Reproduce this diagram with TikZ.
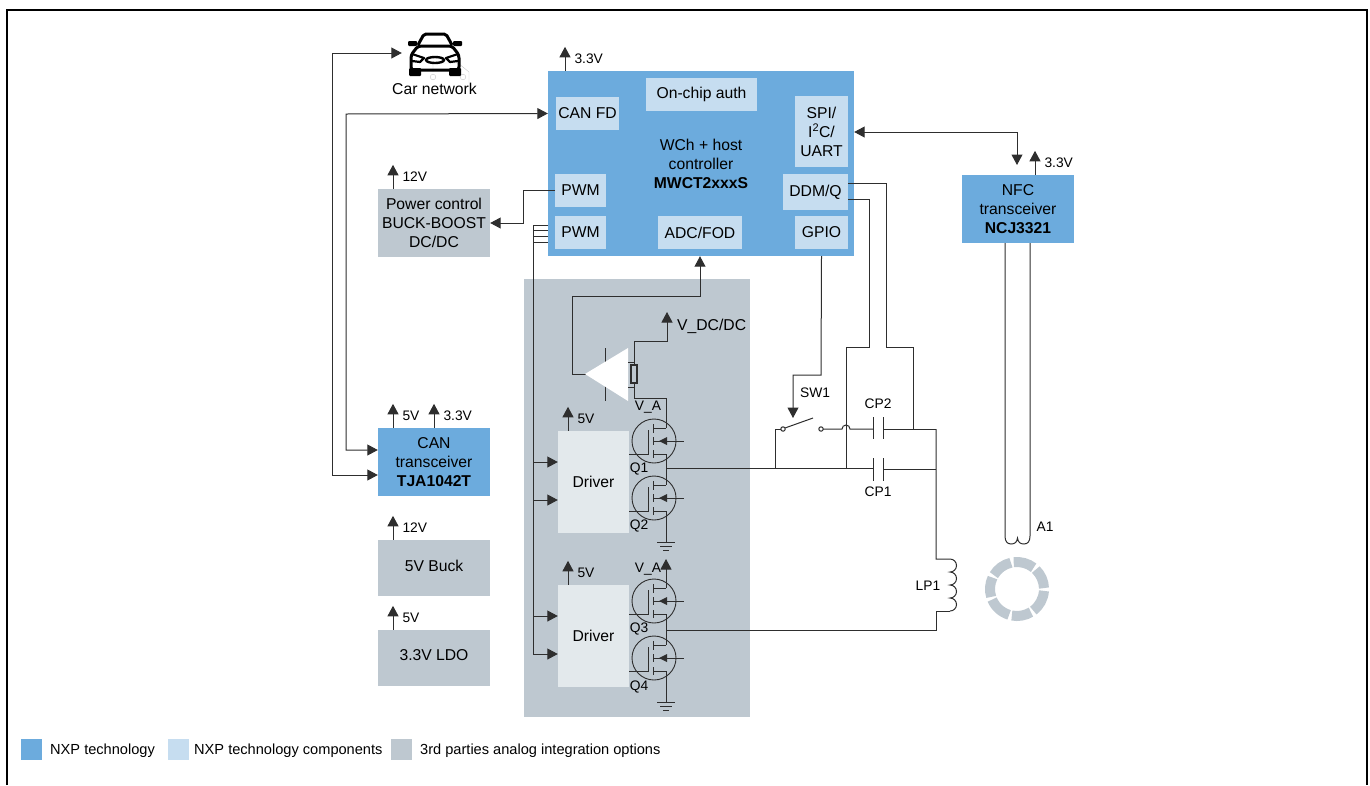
\documentclass[tikz,border=0pt]{standalone}
\usepackage{fontspec}
\setmainfont{Liberation Sans}
\usetikzlibrary{arrows.meta,calc}
\definecolor{nxpblue}{HTML}{6CABDD}
\definecolor{nxplight}{HTML}{C6DDF0}
\definecolor{thirdgray}{HTML}{BEC8D0}
\definecolor{drvfill}{HTML}{E3E9EC}
\definecolor{wirecol}{HTML}{2E2E2E}
\tikzset{
  >={Triangle[width=11pt,length=10.5pt]},
  wire/.style={draw=wirecol,line width=1pt},
  boxtxt/.style={inner sep=0pt,align=center,font=\fontsize{15.7}{19}\selectfont},
  nxpbox/.style={boxtxt,fill=nxpblue},
  partbox/.style={boxtxt,fill=nxplight},
  graybox/.style={boxtxt,fill=thirdgray},
  drvbox/.style={boxtxt,fill=drvfill},
  lab/.style={inner sep=0pt,font=\fontsize{13.8}{16}\selectfont},
  fetring/.style={circle,draw=wirecol,line width=0.9pt,minimum size=44pt,inner sep=0pt},
  carline/.style={draw=black,line width=3pt,line join=round},
}
\begin{document}
\begin{tikzpicture}[x=1pt,y=-1pt]
  \useasboundingbox (0,0) rectangle (1370,785);
  \draw[black,line width=2pt] (7,785) -- (7,10) -- (1367,10) -- (1367,785);
  % blocks
  \node[graybox,minimum width=226pt,minimum height=438pt] (panel) at (637,498) {};
  \node[nxpbox,minimum width=306pt,minimum height=185pt] (mcu) at (701,163.5) {};
  \node[boxtxt] (mcutxt) at (701,164) {WCh + host\\controller\\\textbf{MWCT2xxxS}};
  \node[partbox,minimum width=111pt,minimum height=33pt] (auth) at (701.5,94.5) {On-chip auth};
  \node[partbox,minimum width=63pt,minimum height=33pt] (canfd) at (587.5,113.5) {CAN FD};
  \node[partbox,minimum width=53pt,minimum height=71pt] (spi) at (821.5,131.5) {SPI/\\I\textsuperscript{2}C/\\UART};
  \node[partbox,minimum width=65pt,minimum height=36pt] (ddm) at (815.5,192) {DDM/Q};
  \node[partbox,minimum width=53pt,minimum height=33pt] (gpio) at (821.5,232.5) {GPIO};
  \node[partbox,minimum width=51pt,minimum height=33pt] (pwma) at (580.5,190.5) {PWM};
  \node[partbox,minimum width=51pt,minimum height=33pt] (pwmb) at (580.5,232.5) {PWM};
  \node[partbox,minimum width=84pt,minimum height=33pt] (adc) at (700,232.5) {ADC/FOD};
  \node[graybox,minimum width=112pt,minimum height=68pt] (power) at (434,223) {Power control\\BUCK-BOOST\\DC/DC};
  \node[nxpbox,minimum width=112pt,minimum height=68pt] (can) at (434,462) {CAN\\transceiver\\\textbf{TJA1042T}};
  \node[graybox,text depth=5pt,minimum width=112pt,minimum height=56pt] (buck) at (434,568) {5V Buck};
  \node[graybox,text depth=5pt,minimum width=112pt,minimum height=56pt] (ldo) at (434,658) {3.3V LDO};
  \node[nxpbox,minimum width=112pt,minimum height=68pt] (nfc) at (1018,209) {NFC\\transceiver\\\textbf{NCJ3321}};
  \node[drvbox,minimum width=71pt,minimum height=102pt] (drva) at (593.5,482) {Driver};
  \node[drvbox,minimum width=71pt,minimum height=102pt] (drvb) at (593.5,636) {Driver};
  % car
  \node[inner sep=0pt,minimum width=66pt,minimum height=46pt] (car) at (435,53) {};
  \node[boxtxt] (carlab) at (434.5,89) {Car network};
  \draw[gray!45,line width=0.4pt] (433,72) -- (433,63) -- (458,63) -- (469,72) -- (469,83);
  \draw[gray!45,line width=0.4pt] (433,77) circle (2.8pt) (463,77) circle (2.8pt);
  \draw[carline,rounded corners=2pt] (418,45) -- (424,34) -- (446,34) -- (452,45);
  \draw[carline,rounded corners=3pt] (411,70) -- (411,55) -- (418,46) -- (452,46) -- (459,55) -- (459,70) -- cycle;
  \fill[black,rounded corners=1pt] (409,68) rectangle (421,76) (449,68) rectangle (461,76);
  \fill[black,rounded corners=1pt] (408,41) rectangle (417,46) (453,41) rectangle (462,46);
  \draw[black,line width=2.2pt,line join=round] (412,54) -- (424,58) -- (420,62) -- (412,61);
  \draw[black,line width=2.2pt,line join=round] (458,54) -- (446,58) -- (450,62) -- (458,61);
  \draw[black,line width=2.4pt] (435,60) ellipse (9pt and 3pt);
  % links
  \draw[wire,<->] (car.west) -- (332,53) -- (332,475) -- (can.west |- 0,475);
  \draw[wire,<->] (mcu.west |- canfd) -- (346,114) -- (346,450) -- (can.west |- 0,450);
  \draw[wire,->] (pwma.west) -- (523,190.5) -- (523,223) -- (power.east);
  \draw[wire,<->] (mcu.east |- 0,132) -- (1017,132) -- (1017,165);
  \foreach \bx/\ax/\lab [count=\i] in {mcu/565/3.3V,power/393/12V,can/393/5V,can/434/3.3V,buck/393/12V,ldo/393/5V,nfc/1035/3.3V,drva/568/5V,drvb/568/5V}{
    \draw[wire,->] (\ax,0 |- \bx.north) -- ++(0,-24) node[lab,midway,anchor=west,xshift=9pt] (rail\i) {\lab};
  }
  % pwm bus
  \foreach \by in {225,230,236,242}{
    \draw[wire] (533,\by) -- (mcu.west |- 0,\by);
  }
  \draw[wire] (533,225) -- (533,654);
  \foreach \dv/\by in {drva/462,drva/500,drvb/616,drvb/654}{
    \draw[wire,->] (533,\by) -- (\dv.west |- 0,\by);
  }
  % sense amp
  \draw[wire,->] (572,374) -- (572,296) -- (700,296) -- (adc.south |- mcu.south);
  \draw[wire] (572,374) -- (590,374);
  \draw[wire] (605,348) -- (605,401);
  \fill[white] (585,374) -- (628,348) -- (628,401) -- cycle;
  \draw[wire] (628,362) -- (634,362) (628,387) -- (634,387);
  \draw[wire,->] (634,365) -- (634,341) -- (667,341) -- (667,312);
  \node[boxtxt,anchor=west] (vdc) at (677,326) {V\_DC/DC};
  \draw[wire] (634,383) -- (634,398) -- (666,398) -- (666,428);
  \draw[wire,fill=thirdgray,line width=1.2pt] (631,365) rectangle (637,383);
  \node[lab] (vaa) at (648,407) {V\_A};
  \node[lab] (vab) at (648,569) {V\_A};
  % fets
  \foreach \qn/\qy/\dv in {qa/441/drva,qb/498/drva,qc/601/drvb,qd/658/drvb}{
    \node[fetring] (\qn) at (654,\qy) {};
    \begin{scope}[shift={(\qn.center)}]
      \draw[wire] (-6,-11) -- (-6,13) -- (-25,13);
      \draw[wire] (-1,-17) -- (-1,-8) (-1,-4) -- (-1,4) (-1,9) -- (-1,17);
      \draw[wire] (-1,-13) -- (12,-13) (-1,13) -- (12,13) (-1,0) -- (30,0);
      \fill[wirecol] (5,0) -- (13,-4) -- (13,4) -- cycle;
    \end{scope}
  }
  \node[lab] (qal) at (639,469) {Q1};
  \node[lab] (qbl) at (639,526) {Q2};
  \node[lab] (qcl) at (639,629) {Q3};
  \node[lab] (qdl) at (639,687) {Q4};
  \draw[wire] (666,454) -- (666,485) (666,511) -- (666,542);
  \draw[wire,->] (666,588) -- (666,559);
  \draw[wire] (666,614) -- (666,645) (666,671) -- (666,702);
  \foreach \gy in {542,702}{
    \draw[wire] (657,\gy) -- (675,\gy) (660,\gy+4) -- (672,\gy+4) (663,\gy+8) -- (669,\gy+8);
  }
  % power stage
  \draw[wire] (666,468) -- (873,468);
  \draw[wire] (666,630) -- (936,630) -- (936,611) -- (950,611);
  \draw[wire] (936,429) -- (936,559) -- (950,559) arc[start angle=90,end angle=-90,radius=6.5pt]
    arc[start angle=90,end angle=-90,radius=6.5pt] arc[start angle=90,end angle=-90,radius=6.5pt]
    arc[start angle=90,end angle=-90,radius=6.5pt];
  \node[lab] (lpl) at (928,586) {LP1};
  \draw[wire] (873,417) -- (873,439) (883,417) -- (883,439) (873,458) -- (873,481) (883,458) -- (883,481);
  \draw[wire] (883,429) -- (936,429) (883,469) -- (936,469);
  \node[lab] (cpb) at (878,404) {CP2};
  \node[lab] (cpa) at (878,492) {CP1};
  \draw[wire] (775,468) -- (775,429) -- (781,429);
  \draw[wire] (785,428) -- (813,418);
  \draw[wire,fill=white,line width=1pt] (783,429) circle (2.2pt) (821,429) circle (2.2pt);
  \draw[wire] (823,429) -- (842,429) arc[start angle=180,end angle=0,radius=4pt] -- (873,429);
  \draw[wire,->] (gpio.south |- mcu.south) -- (821,375) -- (793,375) -- (793,418);
  \node[lab] (swl) at (815,393) {SW1};
  \draw[wire] (846,468) -- (846,347) -- (869,347) -- (869,199) -- (ddm.east |- 0,199);
  \draw[wire] (913,429) -- (913,347) -- (886,347) -- (886,183) -- (ddm.east |- 0,183);
  % antenna
  \draw[wire] (1005,243) -- (1005,536) .. controls (1005,541) and (1007,544) .. (1011,544)
    .. controls (1015,544) and (1017,542) .. (1017.5,538) .. controls (1018,542) and (1020,544) .. (1024,544)
    .. controls (1028,544) and (1030,541) .. (1030,536) -- (1030,243);
  \node[lab] (al) at (1045,527) {A1};
  \coordinate (ring) at (1017,589);
  \foreach \ra/\rb in {-101/-59,-53/-4,2/46,52/97,103/149,155/197,203/253}{
    \draw[thirdgray,line width=10pt] ($(ring)+(\ra:27pt)$) arc[start angle=\ra,end angle=\rb,radius=27pt];
  }
  % legend
  \node[fill=nxpblue,minimum size=21pt,inner sep=0pt] (lga) at (31.5,749.5) {};
  \node[fill=nxplight,minimum size=21pt,inner sep=0pt] (lgb) at (178.5,749.5) {};
  \node[fill=thirdgray,minimum size=21pt,inner sep=0pt] (lgc) at (401.5,749.5) {};
  \node[lab,anchor=west,font=\fontsize{14.6}{16}\selectfont] (lta) at (50,750.5) {NXP technology};
  \node[lab,anchor=west,font=\fontsize{14.6}{16}\selectfont] (ltb) at (194,750.5) {NXP technology components};
  \node[lab,anchor=west,font=\fontsize{14.6}{16}\selectfont] (ltc) at (420,750.5) {3rd parties analog integration options};
\end{tikzpicture}
\end{document}
